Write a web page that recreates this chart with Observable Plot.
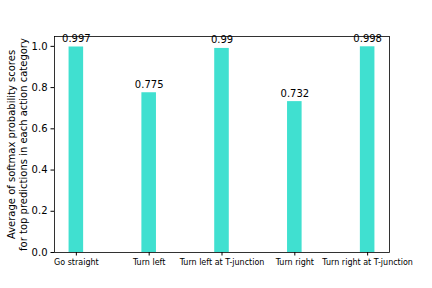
<!DOCTYPE html>
<html><head><meta charset="utf-8">
<script src="https://cdn.jsdelivr.net/npm/d3@7"></script>
<script src="https://cdn.jsdelivr.net/npm/@observablehq/plot@0.6"></script>
<style>
html,body{margin:0;padding:0;background:#fff;}
svg{font-family:"DejaVu Sans",sans-serif;}
</style></head>
<body><div id="chart"></div>
<script>
const categories = ["Go straight","Turn left","Turn left at T-junction","Turn right","Turn right at T-junction"];
const values = [0.997, 0.775, 0.99, 0.732, 0.998];
const valueLabels = ["0.997","0.775","0.99","0.732","0.998"];
const yTicks = [0, 0.2, 0.4, 0.6, 0.8, 1.0];
const yLabel = "Average of softmax probability scores\nfor top predictions in each action category";

const data = categories.map((c, i) => ({i, c, v: values[i], lab: valueLabels[i]}));

const chart = Plot.plot({
  width: 432, height: 288,
  marginLeft: 54, marginRight: 43, marginTop: 36, marginBottom: 36,
  style: {fontFamily: "DejaVu Sans, sans-serif", background: "#fff", color: "#000"},
  x: {domain: [-0.3, 4.3], axis: null},
  y: {domain: [0, 1.0479], axis: null},
  marks: [
    Plot.rectY(data, {x1: d => d.i - 0.1, x2: d => d.i + 0.1, y1: 0, y2: "v", fill: "#40e0d0"}),
    Plot.text(data, {x: "i", y: "v", text: "lab", lineAnchor: "bottom", dy: -5, fontSize: 10, fill: "#000"}),
    Plot.axisY(yTicks, {tickFormat: d => d.toFixed(1), tickSize: 3.5, tickPadding: 3.5, fontSize: 10, label: null, stroke: "#000", color: "#000"}),
    Plot.axisX(categories.map((c, i) => i), {tickFormat: i => categories[i], tickSize: 3.5, tickPadding: 3, fontSize: 8, label: null, stroke: "#000"}),
    Plot.text([yLabel], {frameAnchor: "left", dx: -37, rotate: -90, fontSize: 10, lineHeight: 1.15, textAnchor: "middle", fill: "#000"}),
    Plot.frame({stroke: "#000", strokeWidth: 0.8})
  ]
});
document.getElementById("chart").appendChild(chart);
</script>
</body></html>
